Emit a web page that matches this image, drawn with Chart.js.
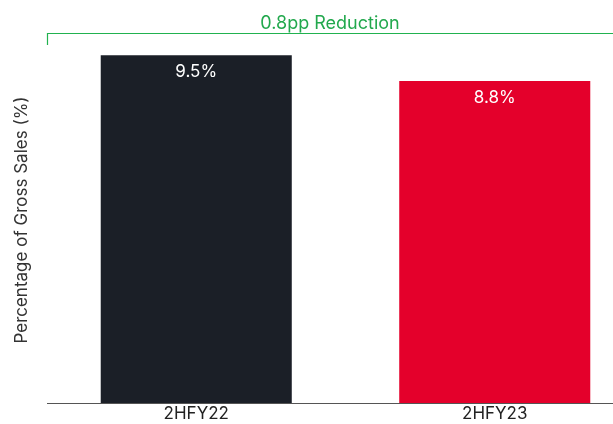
<!DOCTYPE html>
<html>
<head>
<meta charset="utf-8">
<script src="https://cdn.jsdelivr.net/npm/chart.js@4/dist/chart.umd.min.js"></script>
<style>
  html,body {margin:0; padding:0; background:#fff;}
  #wrap {width:613px; height:424px; overflow:hidden; position:relative;}
  #box {width:644px; height:424px;}
</style>
</head>
<body>
<div id="wrap"><div id="box"><canvas id="chart1canvas"></canvas></div></div>
<script>
/* Data */
const categories=["2HFY22","2HFY23"];
const values=[9.5,8.8];
const barColors=["#1b1f27","#e4002b"];
const valueLabels=["9.5%","8.8%"];
const bracketText="0.8pp Reduction";
const yTitle="Percentage of Gross Sales (%)";

const fontFamily="Inter, 'Noto Sans', sans-serif";
const visibleWidth=613;

/* Value labels inside the bars */
const barLabels={
  id: 'barLabels',
  afterDatasetsDraw(chart) {
    const ctx=chart.ctx;
    const meta=chart.getDatasetMeta(0);
    ctx.save();
    ctx.fillStyle="#ffffff";
    ctx.font="17px "+fontFamily;
    ctx.textAlign="center";
    ctx.textBaseline="middle";
    meta.data.forEach((bar,i)=>{
      ctx.fillText(valueLabels[i],bar.x,bar.y+17);
    });
    ctx.restore();
  }
};

/* Green bracket on top */
const bracket={
  id: 'bracket',
  afterDraw(chart) {
    const ctx=chart.ctx;
    const area=chart.chartArea;
    const y=area.top-4;
    ctx.save();
    ctx.strokeStyle="#21b24f";
    ctx.lineWidth=1.2;
    ctx.beginPath();
    ctx.moveTo(area.left+0.5,y+12);
    ctx.lineTo(area.left+0.5,y+0.5);
    ctx.lineTo(chart.width,y+0.5);
    ctx.stroke();
    ctx.fillStyle="#22a84d";
    ctx.font="18px "+fontFamily;
    ctx.textAlign="center";
    ctx.textBaseline="alphabetic";
    ctx.fillText(bracketText,(area.left+visibleWidth)/2,y-4);
    ctx.restore();
  }
};

const chartData={
  labels: categories,
  datasets: [{data: values, backgroundColor: barColors, barPercentage: 0.64, categoryPercentage: 1}]
};

const chartOptions={
  responsive: true,
  maintainAspectRatio: false,
  animation: false,
  layout: {padding: {top: 37, left: 0, right: 0, bottom: 0}},
  scales: {
    x: {
      grid: {display: false, drawTicks: false},
      border: {display: true, color: "#555555", width: 1},
      ticks: {color: "#222222", font: {family: fontFamily, size: 17}, padding: 1},
      afterFit: scale=>{scale.height=21;}
    },
    y: {
      min: 0, max: 10,
      grid: {display: false, drawTicks: false},
      border: {display: false},
      ticks: {display: false},
      title: {display: true, text: yTitle, color: "#333333", font: {family: fontFamily, size: 17}, padding: {top: 12, bottom: 0}},
      afterFit: scale=>{scale.width=47;}
    }
  },
  plugins: {legend: {display: false}, tooltip: {enabled: false}}
};

new Chart(chart1canvas,{type: 'bar', data: chartData, options: chartOptions, plugins: [barLabels,bracket]});
</script>
</body>
</html>
